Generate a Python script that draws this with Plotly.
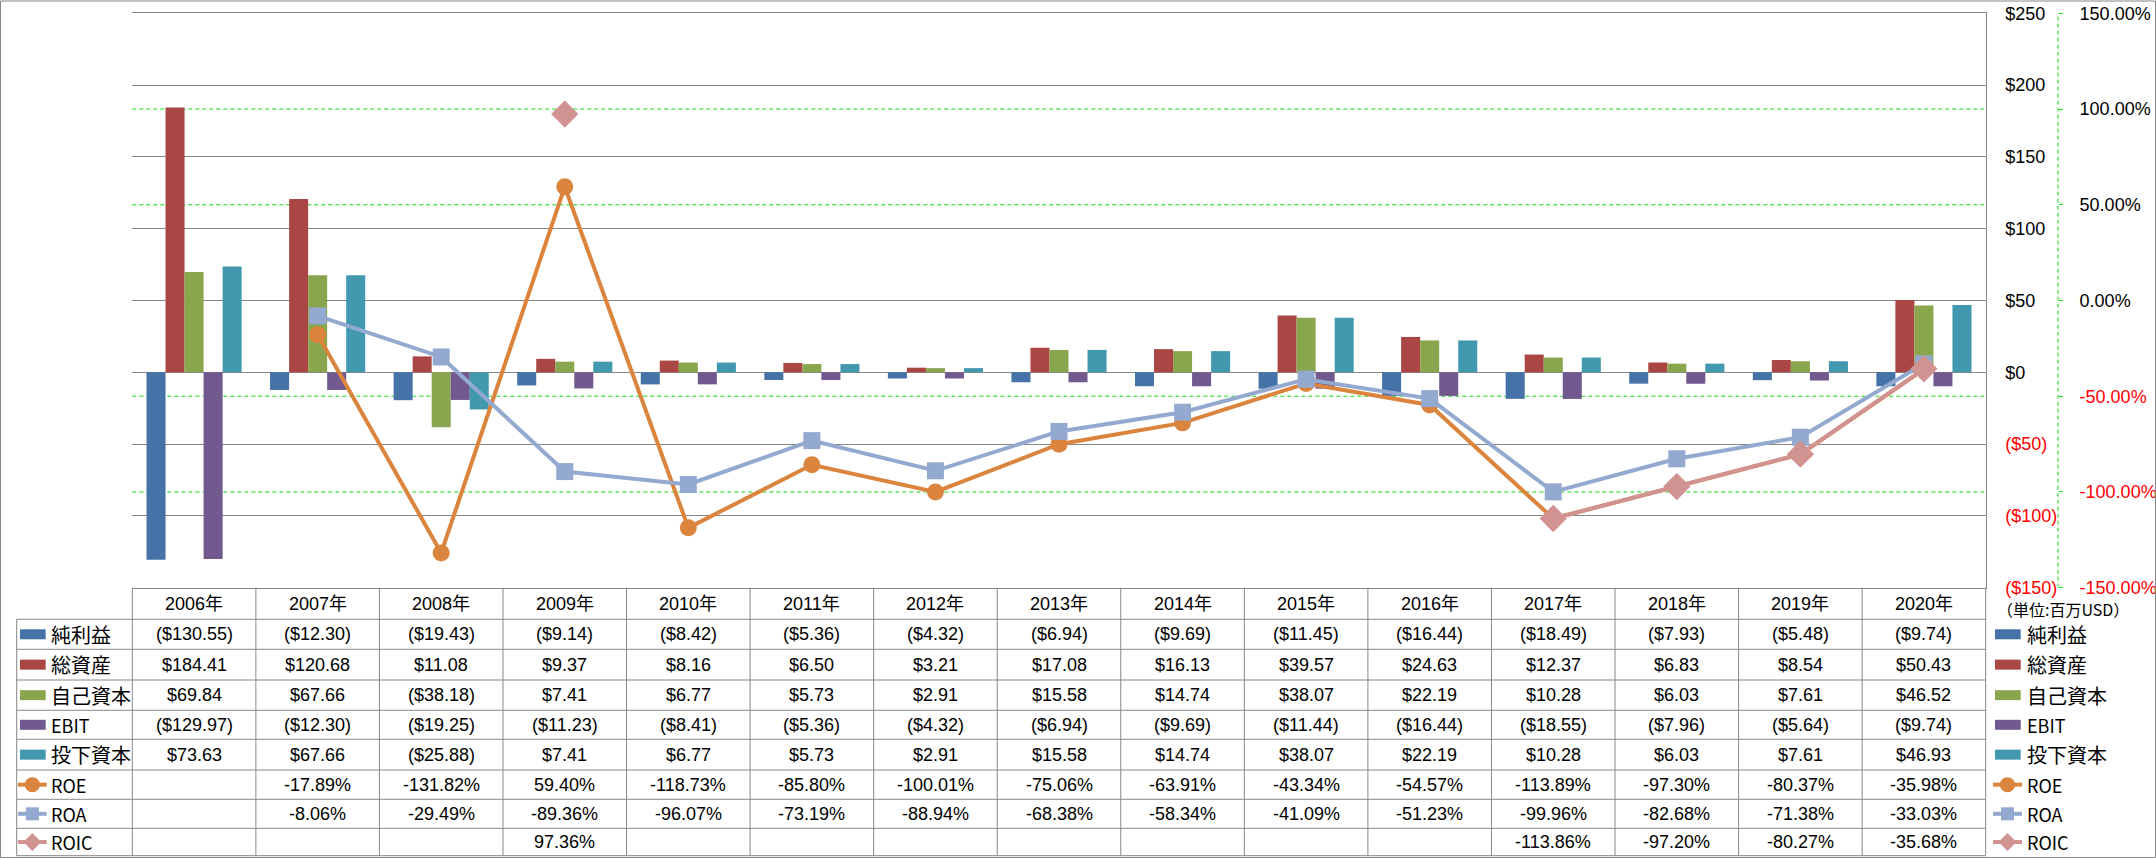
import plotly.graph_objects as go

# ---------------- data ----------------
years = ["2006年", "2007年", "2008年", "2009年", "2010年", "2011年", "2012年", "2013年",
         "2014年", "2015年", "2016年", "2017年", "2018年", "2019年", "2020年"]

net_income = [-130.55, -12.30, -19.43, -9.14, -8.42, -5.36, -4.32, -6.94, -9.69, -11.45, -16.44, -18.49, -7.93, -5.48, -9.74]
total_assets = [184.41, 120.68, 11.08, 9.37, 8.16, 6.50, 3.21, 17.08, 16.13, 39.57, 24.63, 12.37, 6.83, 8.54, 50.43]
equity = [69.84, 67.66, -38.18, 7.41, 6.77, 5.73, 2.91, 15.58, 14.74, 38.07, 22.19, 10.28, 6.03, 7.61, 46.52]
ebit = [-129.97, -12.30, -19.25, -11.23, -8.41, -5.36, -4.32, -6.94, -9.69, -11.44, -16.44, -18.55, -7.96, -5.64, -9.74]
invested = [73.63, 67.66, -25.88, 7.41, 6.77, 5.73, 2.91, 15.58, 14.74, 38.07, 22.19, 10.28, 6.03, 7.61, 46.93]

roe = [None, -17.89, -131.82, 59.40, -118.73, -85.80, -100.01, -75.06, -63.91, -43.34, -54.57, -113.89, -97.30, -80.37, -35.98]
roa = [None, -8.06, -29.49, -89.36, -96.07, -73.19, -88.94, -68.38, -58.34, -41.09, -51.23, -99.96, -82.68, -71.38, -33.03]
roic = [None, None, None, 97.36, None, None, None, None, None, None, None, -113.86, -97.20, -80.27, -35.68]

bar_names = ["純利益", "総資産", "自己資本", "EBIT", "投下資本"]
line_names = ["ROE", "ROA", "ROIC"]
usd_ticks = [-150, -100, -50, 0, 50, 100, 150, 200, 250]
pct_ticks = [-150, -100, -50, 0, 50, 100, 150]
unit_label = "（単位:百万USD）"

# ---------------- styles ----------------
bar_colors = ["#4572A7", "#AA4643", "#89A54E", "#71588F", "#4198AF"]
line_colors = ["#DB843D", "#93A9CF", "#D19392"]
line_symbols = ["circle", "square", "diamond"]
line_sizes = [17, 17, 21]
GRID = "#878787"
GREEN = "#11DD11"
RED = "#FF0000"
NUMFONT = "Liberation Sans, Noto Sans CJK JP"
LABFONT = "Noto Sans CJK JP"

W, H = 2156, 858
X0, X1 = 132.3, 1985.7
YT, YB = 13.3, 587.7
ROW_Y = [587.7, 619.3, 649.3, 680.0, 710.3, 739.3, 770.0, 799.3, 828.3, 855.7]
LAB_LEFT = 16.7
PCT_AXIS_X = 2058


def fx(p):
    return p / W


def fy(p):
    return 1 - p / H


def money(v):
    if v is None:
        return ""
    return f"(${abs(v):.2f})" if v < 0 else f"${v:.2f}"


def pct(v):
    if v is None:
        return ""
    return f"{v:.2f}%"


def money_tick(v):
    if v < 0:
        return f'<span style="color:{RED}">(${abs(v):.0f})</span>'
    return f"${v:.0f}"


def pct_tick(v):
    s = f"{v:.2f}%"
    if v < 0:
        return f'<span style="color:{RED}">{s}</span>'
    return s


fig = go.Figure()

bar_values = [net_income, total_assets, equity, ebit, invested]
for name, vals, col in zip(bar_names, bar_values, bar_colors):
    fig.add_trace(go.Bar(x=years, y=vals, name=name, marker=dict(color=col, line=dict(width=0)),
                         showlegend=False))

line_values = [roe, roa, roic]
for name, vals, col, sym, sz in zip(line_names, line_values, line_colors, line_symbols, line_sizes):
    fig.add_trace(go.Scatter(x=years, y=vals, name=name, yaxis="y2", mode="lines+markers",
                             line=dict(color=col, width=4),
                             marker=dict(symbol=sym, size=sz, color=col, line=dict(width=0)),
                             connectgaps=False, showlegend=False))

shapes = []
annotations = []

# green dashed secondary gridlines
for v in pct_ticks:
    if v != 0 and abs(v) != 150:
        shapes.append(dict(type="line", xref="paper", yref="y2", x0=fx(X0), x1=fx(X1), y0=v, y1=v,
                           line=dict(color=GREEN, width=1, dash="4px,3px"), layer="below"))
# secondary axis line (dashed green)
shapes.append(dict(type="line", xref="paper", yref="paper", x0=fx(PCT_AXIS_X), x1=fx(PCT_AXIS_X),
                   y0=fy(YB), y1=fy(YT), line=dict(color=GREEN, width=1, dash="4px,3px")))

# ---------------- table ----------------
ncol = len(years)
cw = (X1 - X0) / ncol
col_x = [X0 + i * cw for i in range(ncol + 1)]

for y in ROW_Y[1:]:
    shapes.append(dict(type="line", xref="paper", yref="paper", x0=fx(LAB_LEFT), x1=fx(X1),
                       y0=fy(y), y1=fy(y), line=dict(color=GRID, width=1)))
shapes.append(dict(type="line", xref="paper", yref="paper", x0=fx(LAB_LEFT), x1=fx(LAB_LEFT),
                   y0=fy(ROW_Y[1]), y1=fy(ROW_Y[-1]), line=dict(color=GRID, width=1)))
for x in col_x:
    shapes.append(dict(type="line", xref="paper", yref="paper", x0=fx(x), x1=fx(x),
                       y0=fy(ROW_Y[0]), y1=fy(ROW_Y[-1]), line=dict(color=GRID, width=1)))

# header
for i, yr in enumerate(years):
    annotations.append(dict(x=fx(col_x[i] + cw / 2), y=fy((ROW_Y[0] + ROW_Y[1]) / 2), xref="paper", yref="paper",
                            text=yr, showarrow=False, font=dict(family=NUMFONT, size=18, color="#000"),
                            xanchor="center", yanchor="middle"))

row_texts = [[money(v) for v in s] for s in bar_values] + [[pct(v) for v in s] for s in line_values]
for r, texts in enumerate(row_texts):
    cy = (ROW_Y[r + 1] + ROW_Y[r + 2]) / 2
    for i, t in enumerate(texts):
        if t:
            annotations.append(dict(x=fx(col_x[i] + cw / 2), y=fy(cy), xref="paper", yref="paper",
                                    text=t, showarrow=False, font=dict(family=NUMFONT, size=18, color="#000"),
                                    xanchor="center", yanchor="middle"))


def add_key(xl, xr, cy, kind, color, sym=None):
    if kind == "bar":
        shapes.append(dict(type="rect", xref="paper", yref="paper", x0=fx(xl), x1=fx(xr),
                           y0=fy(cy - 5), y1=fy(cy + 5), fillcolor=color, line=dict(width=0)))
    else:
        shapes.append(dict(type="line", xref="paper", yref="paper", x0=fx(xl), x1=fx(xr),
                           y0=fy(cy), y1=fy(cy), line=dict(color=color, width=4)))
        cx = (xl + xr) / 2
        if sym == "circle":
            r = 7.5
            shapes.append(dict(type="circle", xref="paper", yref="paper", x0=fx(cx - r), x1=fx(cx + r),
                               y0=fy(cy - r), y1=fy(cy + r), fillcolor=color, line=dict(width=0)))
        elif sym == "square":
            r = 6.5
            shapes.append(dict(type="rect", xref="paper", yref="paper", x0=fx(cx - r), x1=fx(cx + r),
                               y0=fy(cy - r), y1=fy(cy + r), fillcolor=color, line=dict(width=0)))
        else:
            r = 9
            path = (f"M {fx(cx)},{fy(cy - r)} L {fx(cx + r)},{fy(cy)} L {fx(cx)},{fy(cy + r)} "
                    f"L {fx(cx - r)},{fy(cy)} Z")
            shapes.append(dict(type="path", xref="paper", yref="paper", path=path,
                               fillcolor=color, line=dict(width=0)))


all_names = bar_names + line_names
all_colors = bar_colors + line_colors
for r, (nm, col) in enumerate(zip(all_names, all_colors)):
    cy = (ROW_Y[r + 1] + ROW_Y[r + 2]) / 2
    kind = "bar" if r < len(bar_names) else "line"
    sym = None if kind == "bar" else line_symbols[r - len(bar_names)]
    if kind == "bar":
        add_key(20, 45.7, cy, kind, col)
        add_key(1995, 2020.7, cy, kind, col)
    else:
        add_key(18, 46.7, cy, kind, col, sym)
        add_key(1993, 2022, cy, kind, col, sym)
    fsize = 18 if nm.isascii() else 20
    for tx in (49.3, 2025):
        annotations.append(dict(x=fx(tx), y=fy(cy), xref="paper", yref="paper", text=nm, showarrow=False,
                                font=dict(family=LABFONT, size=fsize, color="#000"),
                                xanchor="left", yanchor="middle"))

annotations.append(dict(x=fx(1995), y=fy(609), xref="paper", yref="paper", text=unit_label, showarrow=False,
                        font=dict(family=LABFONT, size=16, color="#000"), xanchor="left", yanchor="middle"))

# outer border
shapes.append(dict(type="rect", xref="paper", yref="paper", x0=fx(0.5), x1=fx(2155.5), y0=fy(1), y1=fy(857.5),
                   line=dict(color=GRID, width=1), fillcolor="rgba(0,0,0,0)"))

fig.update_layout(
    template="none",
    width=W, height=H,
    margin=dict(l=0, r=0, t=0, b=0),
    paper_bgcolor="white", plot_bgcolor="rgba(0,0,0,0)",
    barmode="group", bargap=0.23, bargroupgap=0,
    showlegend=False,
    xaxis=dict(domain=[fx(X0), fx(X1)], type="category", range=[-0.5, len(years) - 0.5],
               showticklabels=False, showgrid=False, zeroline=False, ticks="",
               showline=True, mirror=True, linecolor=GRID, linewidth=1, automargin=False),
    yaxis=dict(domain=[fy(YB), fy(YT)], range=[-150, 250], side="right",
               tickvals=usd_ticks, ticktext=[money_tick(v) for v in usd_ticks],
               showgrid=True, gridcolor=GRID, gridwidth=1, zeroline=False,
               showline=True, linecolor=GRID, linewidth=1, ticks="", ticklabelstandoff=15,
               tickfont=dict(family=NUMFONT, size=18, color="#000"), automargin=False),
    yaxis2=dict(overlaying="y", anchor="free", position=fx(PCT_AXIS_X), side="right",
                range=[-150, 150], tickvals=pct_ticks, ticktext=[pct_tick(v) for v in pct_ticks],
                showgrid=False, zeroline=False, showline=False, ticks="outside", ticklen=4,
                tickcolor=GREEN, tickwidth=1, ticklabelstandoff=13,
                tickfont=dict(family=NUMFONT, size=18, color="#000"), automargin=False),
    shapes=shapes,
    annotations=annotations,
)

fig.write_html("out.html")
